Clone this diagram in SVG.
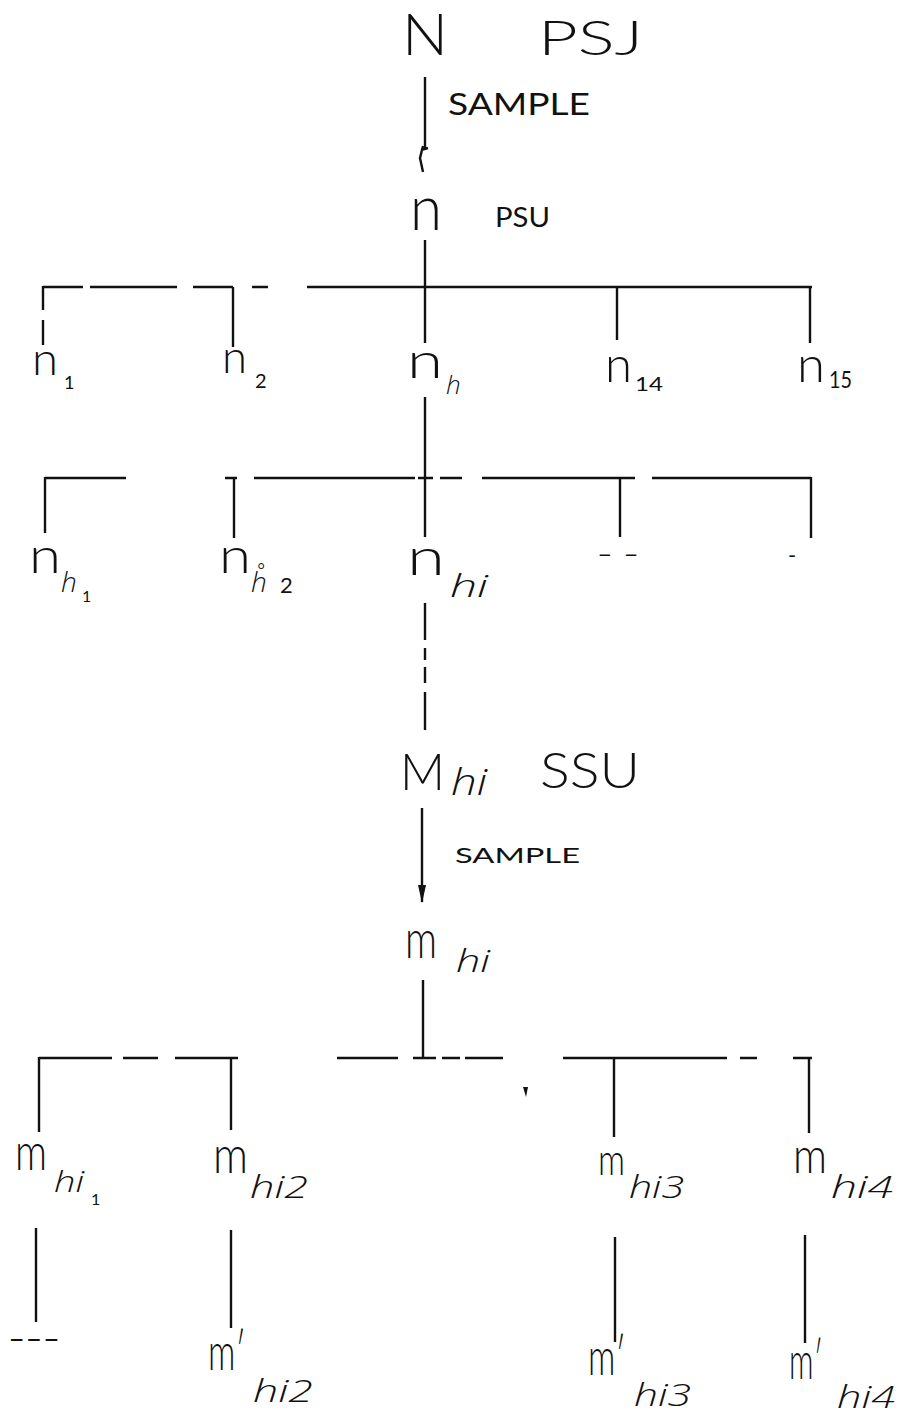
<svg xmlns="http://www.w3.org/2000/svg" width="900" height="1421" viewBox="0 0 900 1421">
<style>
  .ln { stroke:#111; stroke-width:2.4; fill:none; stroke-linecap:butt; }
  .t { font-family:Lato, "Liberation Sans", sans-serif; font-weight:300; fill:#111; }
  .s { font-family:"Open Sans", Lato, "Liberation Sans", sans-serif; font-weight:300; font-style:italic; fill:#111; }
  .cap { font-family:Lato, "Liberation Sans", sans-serif; font-weight:400; fill:#111; }
</style>
<defs>
  <marker id="vfill" viewBox="0 0 20 10" refX="19" refY="5" markerWidth="20" markerHeight="9" markerUnits="userSpaceOnUse" orient="auto">
    <path d="M0,0.5 L20,5 L0,9.5 Z" fill="#111"/>
  </marker>
</defs>
<rect width="900" height="1421" fill="#fff"/>

<g id="connectors">
  <!-- N to n -->
  <line class="ln" x1="425" y1="77" x2="425" y2="148"/>
  <path class="ln" d="M423,146 L420,158 L423,172 M421,150 L428,148" stroke-width="2.4"/>
  <!-- n down -->
  <line class="ln" x1="425" y1="240" x2="425" y2="343"/>
  <!-- bracket 1 -->
  <path class="ln" d="M43,287 H83 M90,287 H177 M193,287 H233 M252,287 H268 M307,287 H812"/>
  <path class="ln" d="M43,286 V310 M43,320 V345"/>
  <line class="ln" x1="233" y1="287" x2="233" y2="347"/>
  <line class="ln" x1="617" y1="287" x2="617" y2="340"/>
  <line class="ln" x1="810" y1="287" x2="810" y2="343"/>
  <!-- nh down -->
  <line class="ln" x1="425" y1="397" x2="425" y2="537"/>
  <!-- bracket 2 -->
  <path class="ln" d="M45,478 H126 M225,478 H237 M254,478 H415 M418,478 H433 M440,478 H462 M482,478 H635 M652,478 H811"/>
  <line class="ln" x1="45" y1="477" x2="45" y2="533"/>
  <line class="ln" x1="234" y1="478" x2="234" y2="538"/>
  <line class="ln" x1="620" y1="478" x2="620" y2="537"/>
  <line class="ln" x1="811" y1="477" x2="811" y2="538"/>
  <!-- nhi down (broken) -->
  <path class="ln" d="M425,603 V640 M425,648 V660 M425,667 V683 M425,692 V730"/>
  <!-- Mhi to mhi -->
  <line class="ln" x1="422" y1="808" x2="422" y2="902" marker-end="url(#vfill)"/>
  <!-- mhi down -->
  <line class="ln" x1="423" y1="980" x2="423" y2="1058"/>
  <!-- bracket 3 -->
  <path class="ln" d="M39,1058 H112 M123,1058 H158 M175,1058 H238 M337,1058 H398 M413,1058 H436 M442,1058 H460 M465,1058 H503 M563,1058 H727 M740,1058 H757 M793,1058 H812"/>
  <line class="ln" x1="39" y1="1057" x2="39" y2="1132"/>
  <line class="ln" x1="231" y1="1058" x2="231" y2="1130"/>
  <line class="ln" x1="614" y1="1058" x2="614" y2="1137"/>
  <line class="ln" x1="809" y1="1057" x2="809" y2="1133"/>
  <path d="M523,1087 L528,1087 L526,1097 Z" fill="#111"/>
  <!-- lower verticals -->
  <line class="ln" x1="36" y1="1228" x2="36" y2="1322"/>
  <line class="ln" x1="231" y1="1230" x2="231" y2="1328"/>
  <line class="ln" x1="615" y1="1237" x2="615" y2="1342"/>
  <line class="ln" x1="805" y1="1235" x2="805" y2="1343"/>
</g>

<g id="node-N">
  <text class="t" x="402" y="55" font-size="58" textLength="46" lengthAdjust="spacingAndGlyphs">N</text>
  <text class="t" x="538" y="55" font-size="48" textLength="105" lengthAdjust="spacingAndGlyphs">PSJ</text>
</g>
<g id="label-sample1">
  <text class="cap" x="448" y="115" font-size="30" textLength="142" lengthAdjust="spacingAndGlyphs">SAMPLE</text>
</g>
<g id="node-n">
  <text class="t" x="410" y="230" font-size="64" textLength="32" lengthAdjust="spacingAndGlyphs">n</text>
  <text class="cap" x="495" y="227" font-size="27" textLength="55" lengthAdjust="spacingAndGlyphs">PSU</text>
</g>

<g id="node-n1">
  <text class="t" x="32" y="375" font-size="46" textLength="26" lengthAdjust="spacingAndGlyphs">n</text>
  <text class="cap" x="64" y="389" font-size="18">1</text>
</g>
<g id="node-n2">
  <text class="t" x="222" y="373" font-size="46" textLength="25" lengthAdjust="spacingAndGlyphs">n</text>
  <text class="cap" x="255" y="388" font-size="20">2</text>
</g>
<g id="node-nh">
  <text class="t" x="407" y="378" font-size="50" textLength="36" lengthAdjust="spacingAndGlyphs">n</text>
  <text class="s" x="446" y="394" font-size="26">h</text>
</g>
<g id="node-n14">
  <text class="t" x="605" y="382" font-size="50" textLength="27" lengthAdjust="spacingAndGlyphs">n</text>
  <text class="cap" x="635" y="391" font-size="20" textLength="28" lengthAdjust="spacingAndGlyphs">14</text>
</g>
<g id="node-n15">
  <text class="t" x="797" y="382" font-size="50" textLength="28" lengthAdjust="spacingAndGlyphs">n</text>
  <text class="cap" x="829" y="388" font-size="24" textLength="23" lengthAdjust="spacingAndGlyphs">15</text>
</g>

<g id="node-nh1">
  <text class="t" x="29" y="573" font-size="50" textLength="32" lengthAdjust="spacingAndGlyphs">n</text>
  <text class="s" x="61" y="592" font-size="28">h</text>
  <text class="cap" x="82" y="602" font-size="16">1</text>
</g>
<g id="node-nh2">
  <text class="t" x="219" y="573" font-size="50" textLength="32" lengthAdjust="spacingAndGlyphs">n</text>
  <text class="s" x="251" y="592" font-size="28">h̊</text>
  <text class="cap" x="280" y="593" font-size="22">2</text>
</g>
<g id="node-nhi">
  <text class="t" x="407" y="575" font-size="52" textLength="38" lengthAdjust="spacingAndGlyphs">n</text>
  <text class="s" x="450" y="597" font-size="32" textLength="38" lengthAdjust="spacingAndGlyphs">hi</text>
</g>
<g id="node-dots1">
  <text class="cap" x="597" y="562" font-size="22" textLength="42" lengthAdjust="spacingAndGlyphs">- -</text>
</g>
<g id="node-dots2">
  <text class="cap" x="788" y="563" font-size="22">-</text>
</g>

<g id="node-Mhi">
  <text class="t" x="400" y="790" font-size="51" textLength="45" lengthAdjust="spacingAndGlyphs">M</text>
  <text class="s" x="451" y="795" font-size="36" textLength="36" lengthAdjust="spacingAndGlyphs">hi</text>
  <text class="t" x="540" y="788" font-size="50" textLength="100" lengthAdjust="spacingAndGlyphs">SSU</text>
</g>
<g id="label-sample2">
  <text class="cap" x="455" y="863" font-size="21" textLength="125" lengthAdjust="spacingAndGlyphs">SAMPLE</text>
</g>
<g id="node-mhi">
  <text class="t" x="405" y="958" font-size="54" textLength="32" lengthAdjust="spacingAndGlyphs">m</text>
  <text class="s" x="456" y="972" font-size="32" textLength="34" lengthAdjust="spacingAndGlyphs">hi</text>
</g>

<g id="node-mhi1">
  <text class="t" x="15" y="1170" font-size="52" textLength="32" lengthAdjust="spacingAndGlyphs">m</text>
  <text class="s" x="54" y="1192" font-size="30" textLength="30" lengthAdjust="spacingAndGlyphs">hi</text>
  <text class="cap" x="91" y="1205" font-size="16">1</text>
</g>
<g id="node-mhi2">
  <text class="t" x="213" y="1173" font-size="52" textLength="35" lengthAdjust="spacingAndGlyphs">m</text>
  <text class="s" x="250" y="1198" font-size="32" textLength="58" lengthAdjust="spacingAndGlyphs">hi2</text>
</g>
<g id="node-mhi3">
  <text class="t" x="598" y="1175" font-size="44" textLength="27" lengthAdjust="spacingAndGlyphs">m</text>
  <text class="s" x="629" y="1198" font-size="32" textLength="55" lengthAdjust="spacingAndGlyphs">hi3</text>
</g>
<g id="node-mhi4">
  <text class="t" x="793" y="1173" font-size="50" textLength="34" lengthAdjust="spacingAndGlyphs">m</text>
  <text class="s" x="831" y="1198" font-size="32" textLength="62" lengthAdjust="spacingAndGlyphs">hi4</text>
</g>

<g id="node-dashes">
  <text class="cap" x="8" y="1348" font-size="26" textLength="52" lengthAdjust="spacingAndGlyphs">---</text>
</g>
<g id="node-mphi2">
  <text class="t" x="208" y="1370" font-size="52" textLength="38" lengthAdjust="spacingAndGlyphs">m′</text>
  <text class="s" x="253" y="1402" font-size="32" textLength="60" lengthAdjust="spacingAndGlyphs">hi2</text>
</g>
<g id="node-mphi3">
  <text class="t" x="588" y="1375" font-size="52" textLength="38" lengthAdjust="spacingAndGlyphs">m′</text>
  <text class="s" x="634" y="1406" font-size="32" textLength="57" lengthAdjust="spacingAndGlyphs">hi3</text>
</g>
<g id="node-mphi4">
  <text class="t" x="789" y="1379" font-size="52" textLength="34" lengthAdjust="spacingAndGlyphs">m′</text>
  <text class="s" x="837" y="1408" font-size="32" textLength="58" lengthAdjust="spacingAndGlyphs">hi4</text>
</g>
</svg>
